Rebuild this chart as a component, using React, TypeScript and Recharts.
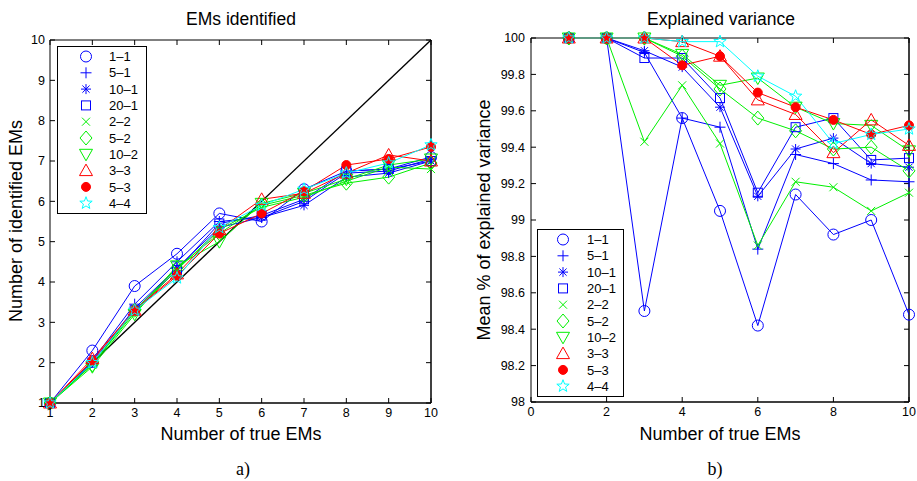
import React from 'react';
import { LineChart, Line, XAxis, YAxis, ReferenceLine } from 'recharts';

const FONT = '"Liberation Sans", Arial, Helvetica, sans-serif';

const xValues = [1, 2, 3, 4, 5, 6, 7, 8, 9, 10];
const seriesNames = ['1–1', '5–1', '10–1', '20–1', '2–2', '5–2', '10–2', '3–3', '5–3', '4–4'];
const seriesColors = ['#0000ff', '#0000ff', '#0000ff', '#0000ff', '#00f000', '#00f000', '#00f000', '#ff0000', '#ff0000', '#00ffff'];
const seriesMarkers = ['circle', 'plus', 'asterisk', 'square', 'x', 'diamond', 'triangleDown', 'triangleUp', 'dot', 'star'];

// a) EMs identified
const em11 = [1, 2.3, 3.9, 4.7, 5.7, 5.5, 6.3, 6.75, 6.8, 7.1];
const em51 = [1, 2.05, 3.45, 4.5, 5.5, 5.6, 6.0, 6.7, 6.75, 7.05];
const em101 = [1, 2.0, 3.35, 4.35, 5.35, 5.6, 5.9, 6.6, 6.7, 7.0];
const em201 = [1, 2.0, 3.3, 4.3, 5.45, 5.65, 6.05, 6.75, 6.8, 7.0];
const em22 = [1, 1.95, 3.25, 4.3, 5.3, 5.85, 6.1, 6.5, 6.85, 6.8];
const em52 = [1, 1.95, 3.3, 4.35, 5.2, 5.9, 6.15, 6.45, 6.6, 6.95];
const em102 = [1, 1.9, 3.2, 4.4, 5.0, 5.95, 6.2, 6.55, 6.9, 7.05];
const em33 = [1, 2.1, 3.3, 4.2, 5.3, 6.05, 6.2, 6.7, 7.15, 7.0];
const em53 = [1, 2.05, 3.3, 4.15, 5.2, 5.7, 6.25, 6.9, 7.05, 7.35];
const em44 = [1, 2.0, 3.3, 4.1, 5.35, 5.9, 6.3, 6.7, 6.95, 7.4];

// b) Explained variance
const v11 = [100, 100, 98.5, 99.56, 99.05, 98.42, 99.14, 98.92, 99.0, 98.48];
const v51 = [100, 100, 99.92, 99.56, 99.51, 98.84, 99.36, 99.31, 99.22, 99.21];
const v101 = [100, 100, 99.93, 99.84, 99.62, 99.13, 99.39, 99.45, 99.31, 99.29];
const v201 = [100, 100, 99.89, 99.89, 99.67, 99.15, 99.51, 99.56, 99.33, 99.34];
const v22 = [100, 100, 99.43, 99.74, 99.42, 98.86, 99.21, 99.18, 99.05, 99.15];
const v52 = [100, 100, 100, 99.9, 99.72, 99.56, 99.49, 99.39, 99.4, 99.27];
const v102 = [100, 100, 100, 99.91, 99.74, 99.78, 99.62, 99.53, 99.52, 99.38];
const v33 = [100, 100, 100, 99.98, 99.9, 99.66, 99.58, 99.37, 99.55, 99.41];
const v53 = [100, 100, 100, 99.85, 99.9, 99.7, 99.62, 99.55, 99.47, 99.52];
const v44 = [100, 100, 100, 99.98, 99.98, 99.79, 99.68, 99.42, 99.47, 99.5];

const xTicksA = [1, 2, 3, 4, 5, 6, 7, 8, 9, 10];
const yTicksA = [1, 2, 3, 4, 5, 6, 7, 8, 9, 10];
const xTicksB = [0, 2, 4, 6, 8, 10];
const yTicksB = [98, 98.2, 98.4, 98.6, 98.8, 99, 99.2, 99.4, 99.6, 99.8, 100];

const emSeries = [em11, em51, em101, em201, em22, em52, em102, em33, em53, em44];
const varSeries = [v11, v51, v101, v201, v22, v52, v102, v33, v53, v44];

const buildTable = (series: number[][]) =>
  xValues.map((x, i) => {
    const row: any = { x };
    series.forEach((s, k) => {
      row['s' + k] = s[i];
    });
    return row;
  });

const emTable = buildTable(emSeries);
const varTable = buildTable(varSeries);

function Marker({ shape, color, cx, cy }: { shape: string; color: string; cx: number; cy: number }) {
  const common = { fill: 'none', stroke: color, strokeWidth: 1 };
  switch (shape) {
    case 'circle':
      return <circle cx={cx} cy={cy} r={5.5} {...common} />;
    case 'plus':
      return <path d={`M${cx - 5.5},${cy}H${cx + 5.5}M${cx},${cy - 5.5}V${cy + 5.5}`} {...common} />;
    case 'asterisk': {
      const d = 3.6;
      return (
        <path
          d={`M${cx - 5},${cy}H${cx + 5}M${cx},${cy - 5}V${cy + 5}M${cx - d},${cy - d}L${cx + d},${cy + d}M${cx - d},${cy + d}L${cx + d},${cy - d}`}
          {...common}
        />
      );
    }
    case 'square':
      return <rect x={cx - 4.5} y={cy - 4.5} width={9} height={9} {...common} />;
    case 'x':
      return <path d={`M${cx - 4},${cy - 4}L${cx + 4},${cy + 4}M${cx - 4},${cy + 4}L${cx + 4},${cy - 4}`} {...common} />;
    case 'diamond':
      return <path d={`M${cx},${cy - 7}L${cx + 6},${cy}L${cx},${cy + 7}L${cx - 6},${cy}Z`} {...common} />;
    case 'triangleDown':
      return <path d={`M${cx - 6.5},${cy - 5}L${cx + 6.5},${cy - 5}L${cx},${cy + 6.5}Z`} {...common} />;
    case 'triangleUp':
      return <path d={`M${cx},${cy - 6.5}L${cx + 6.5},${cy + 5}L${cx - 6.5},${cy + 5}Z`} {...common} />;
    case 'dot':
      return <circle cx={cx} cy={cy} r={4.5} fill={color} stroke={color} strokeWidth={1} />;
    case 'star': {
      const pts: string[] = [];
      for (let i = 0; i < 10; i++) {
        const r = i % 2 === 0 ? 6.5 : 2.7;
        const a = -Math.PI / 2 + (i * Math.PI) / 5;
        pts.push(`${cx + r * Math.cos(a)},${cy + r * Math.sin(a)}`);
      }
      return <polygon points={pts.join(' ')} {...common} />;
    }
    default:
      return null;
  }
}

const tickStyle = { fill: '#000', fontSize: 12.5, fontFamily: FONT };
const axisLineStyle = { stroke: '#000', strokeWidth: 1 };
const axisLineStrong = { stroke: '#000', strokeWidth: 1.5 };

function renderLines() {
  return seriesNames.map((name, k) => (
    <Line
      key={name}
      type="linear"
      dataKey={'s' + k}
      name={name}
      stroke={seriesColors[k]}
      strokeWidth={1}
      isAnimationActive={false}
      activeDot={false}
      dot={(p: any) => (
        <g key={`dot-${k}-${p.index}`}>
          <Marker shape={seriesMarkers[k]} color={seriesColors[k]} cx={p.cx} cy={p.cy} />
        </g>
      )}
    />
  ));
}

// top-edge inward tick for a vertical reference line
const topTickShape = (p: any) => {
  const top = Math.min(p.y1, p.y2);
  return <line x1={p.x1} x2={p.x1} y1={top} y2={top + 5} stroke="#000" strokeWidth={1} />;
};
// right-edge inward tick for a horizontal reference line
const rightTickShape = (p: any) => {
  const right = Math.max(p.x1, p.x2);
  return <line x1={right} x2={right - 5} y1={p.y1} y2={p.y1} stroke="#000" strokeWidth={1} />;
};

function renderFrame(xTicks: number[], yTicks: number[], xMax: number, yMax: number) {
  return [
    <ReferenceLine key="top" y={yMax} stroke="#000" strokeWidth={1} />,
    <ReferenceLine key="right" x={xMax} stroke="#000" strokeWidth={1.5} />,
    ...xTicks.map((t) => <ReferenceLine key={'xt' + t} x={t} shape={topTickShape} />),
    ...yTicks.map((t) => <ReferenceLine key={'yt' + t} y={t} shape={rightTickShape} />),
  ];
}

function LegendBox({ left, top, width, markerX, textX }: { left: number; top: number; width: number; markerX: number; textX: number }) {
  const height = 167;
  return (
    <svg width={width + 2} height={height + 2} style={{ position: 'absolute', left, top }}>
      <rect x={0.5} y={0.5} width={width} height={height} fill="#fff" stroke="#000" strokeWidth={1} />
      {seriesNames.map((name, k) => {
        const cy = 10.5 + k * 16.3;
        return (
          <g key={name}>
            <Marker shape={seriesMarkers[k]} color={seriesColors[k]} cx={markerX} cy={cy} />
            <text x={textX} y={cy + 4.6} fontSize={13} fontFamily={FONT} fill="#000">
              {name}
            </text>
          </g>
        );
      })}
    </svg>
  );
}

function Label({ x, y, text, size = 17.5, rotate = false, serif = false }: any) {
  return (
    <div
      style={{
        position: 'absolute',
        left: x,
        top: y,
        transform: `translate(-50%, -50%)${rotate ? ' rotate(-90deg)' : ''}`,
        whiteSpace: 'nowrap',
        fontSize: size,
        fontFamily: serif ? '"Liberation Serif", "Times New Roman", serif' : FONT,
        color: '#000',
        lineHeight: 1,
      }}
    >
      {text}
    </div>
  );
}

export default function App() {
  return (
    <div style={{ position: 'absolute', left: 0, top: 0, width: 917, height: 481, background: '#fff', overflow: 'hidden' }}>
      {/* Chart a) */}
      <div style={{ position: 'absolute', left: 0, top: 0 }}>
        <LineChart width={450} height={481} data={emTable} margin={{ top: 40, right: 19, bottom: 48, left: 20 }}>
          <XAxis
            type="number"
            dataKey="x"
            domain={[1, 10]}
            ticks={xTicksA}
            tick={tickStyle}
            tickSize={-5}
            tickMargin={10}
            height={30}
            axisLine={axisLineStrong}
            tickLine={axisLineStyle}
          />
          <YAxis
            type="number"
            domain={[1, 10]}
            ticks={yTicksA}
            tick={tickStyle}
            tickSize={-5}
            tickMargin={10}
            width={30}
            axisLine={axisLineStyle}
            tickLine={axisLineStyle}
          />
          {renderFrame(xTicksA, yTicksA, 10, 10)}
          <ReferenceLine
            segment={[
              { x: 1, y: 1 },
              { x: 10, y: 10 },
            ]}
            stroke="#000"
            strokeWidth={1.4}
          />
          {renderLines()}
        </LineChart>
      </div>

      {/* Chart b) */}
      <div style={{ position: 'absolute', left: 460, top: 0 }}>
        <LineChart width={457} height={481} data={varTable} margin={{ top: 38, right: 8, bottom: 49, left: 41 }}>
          <XAxis
            type="number"
            dataKey="x"
            domain={[0, 10]}
            ticks={xTicksB}
            tick={tickStyle}
            tickSize={-5}
            tickMargin={10}
            height={30}
            axisLine={axisLineStrong}
            tickLine={axisLineStyle}
          />
          <YAxis
            type="number"
            domain={[98, 100]}
            ticks={yTicksB}
            tick={tickStyle}
            tickSize={-5}
            tickMargin={11}
            width={30}
            axisLine={axisLineStyle}
            tickLine={axisLineStyle}
          />
          {renderFrame(xTicksB, yTicksB, 10, 100)}
          {renderLines()}
        </LineChart>
      </div>

      <LegendBox left={57} top={46} width={89} markerX={29} textX={52} />
      <LegendBox left={537} top={229} width={86} markerX={26} textX={50} />

      <Label x={241} y={20} text="EMs identified" />
      <Label x={241} y={434} text="Number of true EMs" size={18} />
      <Label x={16} y={221} text="Number of identified EMs" rotate size={18} />
      <Label x={243} y={469} text="a)" serif size={18} />

      <Label x={721} y={20} text="Explained variance" />
      <Label x={720} y={434} text="Number of true EMs" size={18} />
      <Label x={484} y={220} text="Mean % of explained variance" rotate size={18} />
      <Label x={715} y={469} text="b)" serif size={18} />
    </div>
  );
}
